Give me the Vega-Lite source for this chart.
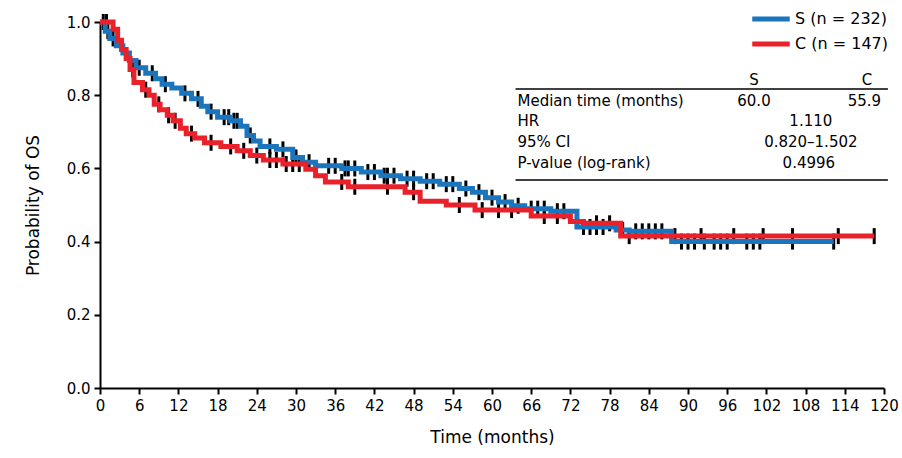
{
  "$schema": "https://vega.github.io/schema/vega-lite/v6.json",
  "width": 784,
  "height": 366,
  "autosize": {"type": "none"},
  "padding": {"left": 100, "top": 22, "right": 18, "bottom": 70},
  "background": "white",
  "config": {
    "view": {"stroke": null},
    "font": "DejaVu Sans",
    "axis": {
      "labelFont": "DejaVu Sans", "titleFont": "DejaVu Sans",
      "labelColor": "black", "titleColor": "black",
      "domainColor": "black", "tickColor": "black",
      "domainWidth": 2, "tickWidth": 2, "tickSize": 6,
      "labelFontSize": 15, "titleFontSize": 17, "titleFontWeight": "normal",
      "grid": false
    },
    "legend": {
      "labelFont": "DejaVu Sans", "labelFontSize": 16, "labelColor": "black"
    }
  },
  "datasets": {
    "curves": [
      {"group": "S (n = 232)", "t": 0, "s": 1.0},
      {"group": "S (n = 232)", "t": 0.8, "s": 0.975},
      {"group": "S (n = 232)", "t": 1.5, "s": 0.955},
      {"group": "S (n = 232)", "t": 2.5, "s": 0.935},
      {"group": "S (n = 232)", "t": 3.5, "s": 0.915},
      {"group": "S (n = 232)", "t": 4.5, "s": 0.895},
      {"group": "S (n = 232)", "t": 5.5, "s": 0.875},
      {"group": "S (n = 232)", "t": 7, "s": 0.86},
      {"group": "S (n = 232)", "t": 8.5, "s": 0.845},
      {"group": "S (n = 232)", "t": 9.5, "s": 0.83},
      {"group": "S (n = 232)", "t": 11, "s": 0.82},
      {"group": "S (n = 232)", "t": 12.5, "s": 0.805},
      {"group": "S (n = 232)", "t": 14, "s": 0.79},
      {"group": "S (n = 232)", "t": 15.5, "s": 0.77},
      {"group": "S (n = 232)", "t": 16.5, "s": 0.755},
      {"group": "S (n = 232)", "t": 18, "s": 0.74},
      {"group": "S (n = 232)", "t": 20, "s": 0.73},
      {"group": "S (n = 232)", "t": 21.5, "s": 0.715},
      {"group": "S (n = 232)", "t": 22.5, "s": 0.69},
      {"group": "S (n = 232)", "t": 23.5, "s": 0.675},
      {"group": "S (n = 232)", "t": 24.5, "s": 0.66},
      {"group": "S (n = 232)", "t": 27, "s": 0.652},
      {"group": "S (n = 232)", "t": 29.5, "s": 0.63},
      {"group": "S (n = 232)", "t": 31, "s": 0.617},
      {"group": "S (n = 232)", "t": 33, "s": 0.607},
      {"group": "S (n = 232)", "t": 37, "s": 0.6},
      {"group": "S (n = 232)", "t": 40, "s": 0.59},
      {"group": "S (n = 232)", "t": 43, "s": 0.58},
      {"group": "S (n = 232)", "t": 46, "s": 0.572},
      {"group": "S (n = 232)", "t": 49, "s": 0.565},
      {"group": "S (n = 232)", "t": 52, "s": 0.557},
      {"group": "S (n = 232)", "t": 55, "s": 0.545},
      {"group": "S (n = 232)", "t": 57, "s": 0.535},
      {"group": "S (n = 232)", "t": 59, "s": 0.52},
      {"group": "S (n = 232)", "t": 61, "s": 0.508},
      {"group": "S (n = 232)", "t": 63, "s": 0.498},
      {"group": "S (n = 232)", "t": 65, "s": 0.49},
      {"group": "S (n = 232)", "t": 69, "s": 0.483},
      {"group": "S (n = 232)", "t": 73, "s": 0.44},
      {"group": "S (n = 232)", "t": 79, "s": 0.432},
      {"group": "S (n = 232)", "t": 81, "s": 0.428},
      {"group": "S (n = 232)", "t": 87.5, "s": 0.40},
      {"group": "S (n = 232)", "t": 112.3, "s": 0.40},
      {"group": "C (n = 147)", "t": 0, "s": 1.0},
      {"group": "C (n = 147)", "t": 2, "s": 0.98},
      {"group": "C (n = 147)", "t": 2.7, "s": 0.95},
      {"group": "C (n = 147)", "t": 3.3, "s": 0.925},
      {"group": "C (n = 147)", "t": 4, "s": 0.9},
      {"group": "C (n = 147)", "t": 4.6, "s": 0.87},
      {"group": "C (n = 147)", "t": 5.2, "s": 0.835},
      {"group": "C (n = 147)", "t": 6.5, "s": 0.815},
      {"group": "C (n = 147)", "t": 7.5, "s": 0.8},
      {"group": "C (n = 147)", "t": 8.3, "s": 0.775},
      {"group": "C (n = 147)", "t": 9.2, "s": 0.76},
      {"group": "C (n = 147)", "t": 10.3, "s": 0.745},
      {"group": "C (n = 147)", "t": 11.2, "s": 0.73},
      {"group": "C (n = 147)", "t": 12.3, "s": 0.71},
      {"group": "C (n = 147)", "t": 13.2, "s": 0.695},
      {"group": "C (n = 147)", "t": 14.5, "s": 0.683},
      {"group": "C (n = 147)", "t": 16, "s": 0.67},
      {"group": "C (n = 147)", "t": 18.5, "s": 0.66},
      {"group": "C (n = 147)", "t": 21, "s": 0.648},
      {"group": "C (n = 147)", "t": 23, "s": 0.635},
      {"group": "C (n = 147)", "t": 25, "s": 0.623},
      {"group": "C (n = 147)", "t": 28, "s": 0.612},
      {"group": "C (n = 147)", "t": 31.5, "s": 0.598},
      {"group": "C (n = 147)", "t": 33, "s": 0.58},
      {"group": "C (n = 147)", "t": 34.5, "s": 0.563},
      {"group": "C (n = 147)", "t": 38, "s": 0.55},
      {"group": "C (n = 147)", "t": 46.7, "s": 0.535},
      {"group": "C (n = 147)", "t": 49, "s": 0.51},
      {"group": "C (n = 147)", "t": 53, "s": 0.5},
      {"group": "C (n = 147)", "t": 57.4, "s": 0.486},
      {"group": "C (n = 147)", "t": 66, "s": 0.47},
      {"group": "C (n = 147)", "t": 72, "s": 0.455},
      {"group": "C (n = 147)", "t": 74, "s": 0.45},
      {"group": "C (n = 147)", "t": 79.7, "s": 0.415},
      {"group": "C (n = 147)", "t": 118.5, "s": 0.415}
    ],
    "censor": [
      {"t": 0.5, "s": 1.0}, {"t": 1.2, "s": 0.975}, {"t": 2, "s": 0.955}, {"t": 6, "s": 0.875}, {"t": 8, "s": 0.86},
      {"t": 10, "s": 0.83}, {"t": 13, "s": 0.805}, {"t": 15, "s": 0.79}, {"t": 17, "s": 0.755},
      {"t": 19, "s": 0.74}, {"t": 19.7, "s": 0.74}, {"t": 20.5, "s": 0.73}, {"t": 21, "s": 0.73},
      {"t": 23, "s": 0.69}, {"t": 26, "s": 0.66}, {"t": 28, "s": 0.652}, {"t": 30, "s": 0.63},
      {"t": 32, "s": 0.617}, {"t": 35, "s": 0.607}, {"t": 36, "s": 0.607}, {"t": 37.5, "s": 0.6}, {"t": 38, "s": 0.6},
      {"t": 39, "s": 0.6}, {"t": 41, "s": 0.59}, {"t": 42, "s": 0.59}, {"t": 43.5, "s": 0.58}, {"t": 44, "s": 0.58},
      {"t": 45, "s": 0.58}, {"t": 47, "s": 0.572}, {"t": 48, "s": 0.572}, {"t": 50, "s": 0.565},
      {"t": 51, "s": 0.565}, {"t": 53, "s": 0.557}, {"t": 54, "s": 0.557}, {"t": 56, "s": 0.545},
      {"t": 58, "s": 0.535}, {"t": 60, "s": 0.52}, {"t": 62, "s": 0.508}, {"t": 64, "s": 0.498},
      {"t": 66, "s": 0.49}, {"t": 67, "s": 0.49}, {"t": 68, "s": 0.49}, {"t": 70, "s": 0.483},
      {"t": 71, "s": 0.483}, {"t": 74, "s": 0.44}, {"t": 75, "s": 0.44}, {"t": 76, "s": 0.44},
      {"t": 77, "s": 0.44}, {"t": 80, "s": 0.432}, {"t": 82, "s": 0.428}, {"t": 83, "s": 0.428},
      {"t": 84, "s": 0.428}, {"t": 85, "s": 0.428}, {"t": 86, "s": 0.428}, {"t": 89, "s": 0.40},
      {"t": 90, "s": 0.40}, {"t": 91, "s": 0.40}, {"t": 92.5, "s": 0.40}, {"t": 94, "s": 0.40}, {"t": 95, "s": 0.40},
      {"t": 96, "s": 0.40}, {"t": 99, "s": 0.40}, {"t": 100, "s": 0.40}, {"t": 101, "s": 0.40},
      {"t": 106, "s": 0.40}, {"t": 112.3, "s": 0.40},
      {"t": 1, "s": 1.0}, {"t": 5, "s": 0.87}, {"t": 7, "s": 0.815}, {"t": 9, "s": 0.775},
      {"t": 10.5, "s": 0.745}, {"t": 11.5, "s": 0.73}, {"t": 14, "s": 0.695}, {"t": 17, "s": 0.67},
      {"t": 20, "s": 0.66}, {"t": 22, "s": 0.648}, {"t": 24, "s": 0.635}, {"t": 26, "s": 0.623},
      {"t": 27, "s": 0.623}, {"t": 28.5, "s": 0.612}, {"t": 29.5, "s": 0.612}, {"t": 30.5, "s": 0.612},
      {"t": 37, "s": 0.563}, {"t": 39, "s": 0.55}, {"t": 44, "s": 0.55}, {"t": 48, "s": 0.535},
      {"t": 55, "s": 0.5}, {"t": 58.5, "s": 0.486}, {"t": 61, "s": 0.486}, {"t": 63, "s": 0.486}, {"t": 68, "s": 0.47},
      {"t": 70, "s": 0.47}, {"t": 76, "s": 0.45}, {"t": 78, "s": 0.45}, {"t": 81, "s": 0.415}, {"t": 88, "s": 0.415},
      {"t": 92, "s": 0.415}, {"t": 97, "s": 0.415}, {"t": 101.5, "s": 0.415}, {"t": 106, "s": 0.415},
      {"t": 113, "s": 0.415}, {"t": 118.5, "s": 0.415}
    ],
    "tableLines": [
      {"t1": 63.6, "t2": 120.6, "s": 0.817},
      {"t1": 63.6, "t2": 120.6, "s": 0.568}
    ],
    "tableLeft": [
      {"label": "Median time (months)", "t": 63.9, "s": 0.784},
      {"label": "HR", "t": 63.9, "s": 0.7295},
      {"label": "95% CI", "t": 63.9, "s": 0.672},
      {"label": "P-value (log-rank)", "t": 63.9, "s": 0.615}
    ],
    "tableCenter": [
      {"label": "S", "t": 100.1, "s": 0.8415},
      {"label": "C", "t": 117.4, "s": 0.8415},
      {"label": "60.0", "t": 100.1, "s": 0.784},
      {"label": "55.9", "t": 117.0, "s": 0.784},
      {"label": "1.110", "t": 108.8, "s": 0.7295},
      {"label": "0.820–1.502", "t": 108.8, "s": 0.672},
      {"label": "0.4996", "t": 108.5, "s": 0.615}
    ]
  },
  "layer": [
    {
      "data": {"name": "censor"},
      "mark": {"type": "tick", "orient": "vertical", "color": "black", "size": 16, "thickness": 3, "opacity": 1},
      "encoding": {
        "x": {"field": "t", "type": "quantitative", "scale": {"domain": [0, 120], "nice": false},
          "axis": {"values": [0,6,12,18,24,30,36,42,48,54,60,66,72,78,84,90,96,102,108,114,120], "tickCount": 40, "title": "Time (months)", "labelPadding": 4, "titlePadding": 16, "labelFlush": false, "labelOverlap": false, "labelBound": false}},
        "y": {"field": "s", "type": "quantitative", "scale": {"domain": [0, 1], "nice": false, "zero": true},
          "axis": {"values": [0, 0.2, 0.4, 0.6, 0.8, 1.0], "format": ".1f", "title": "Probability of OS", "labelPadding": 4, "titlePadding": 24, "labelOverlap": false}}
      }
    },
    {
      "data": {"name": "curves"},
      "mark": {"type": "line", "interpolate": "step-after", "strokeWidth": 5},
      "encoding": {
        "x": {"field": "t", "type": "quantitative"},
        "y": {"field": "s", "type": "quantitative"},
        "color": {"field": "group", "type": "nominal",
          "scale": {"domain": ["S (n = 232)", "C (n = 147)"], "range": ["#1b75bc", "#e8212b"]},
          "legend": {"title": null, "orient": "none", "legendX": 656, "legendY": -18, "padding": 0,
            "symbolType": "M-1.5,0L1.5,0", "symbolSize": 625, "symbolStrokeWidth": 5, "symbolFillColor": "transparent",
            "labelOffset": 9, "rowPadding": 0, "labelFontSize": 16}}
      }
    },
    {
      "data": {"name": "tableLines"},
      "mark": {"type": "rule", "color": "black", "strokeWidth": 1.5},
      "encoding": {
        "x": {"field": "t1", "type": "quantitative"},
        "x2": {"field": "t2"},
        "y": {"field": "s", "type": "quantitative"}
      }
    },
    {
      "data": {"name": "tableLeft"},
      "mark": {"type": "text", "align": "left", "baseline": "middle", "fontSize": 15, "color": "black"},
      "encoding": {
        "x": {"field": "t", "type": "quantitative"},
        "y": {"field": "s", "type": "quantitative"},
        "text": {"field": "label"}
      }
    },
    {
      "data": {"name": "tableCenter"},
      "mark": {"type": "text", "align": "center", "baseline": "middle", "fontSize": 15, "color": "black"},
      "encoding": {
        "x": {"field": "t", "type": "quantitative"},
        "y": {"field": "s", "type": "quantitative"},
        "text": {"field": "label"}
      }
    }
  ]
}
